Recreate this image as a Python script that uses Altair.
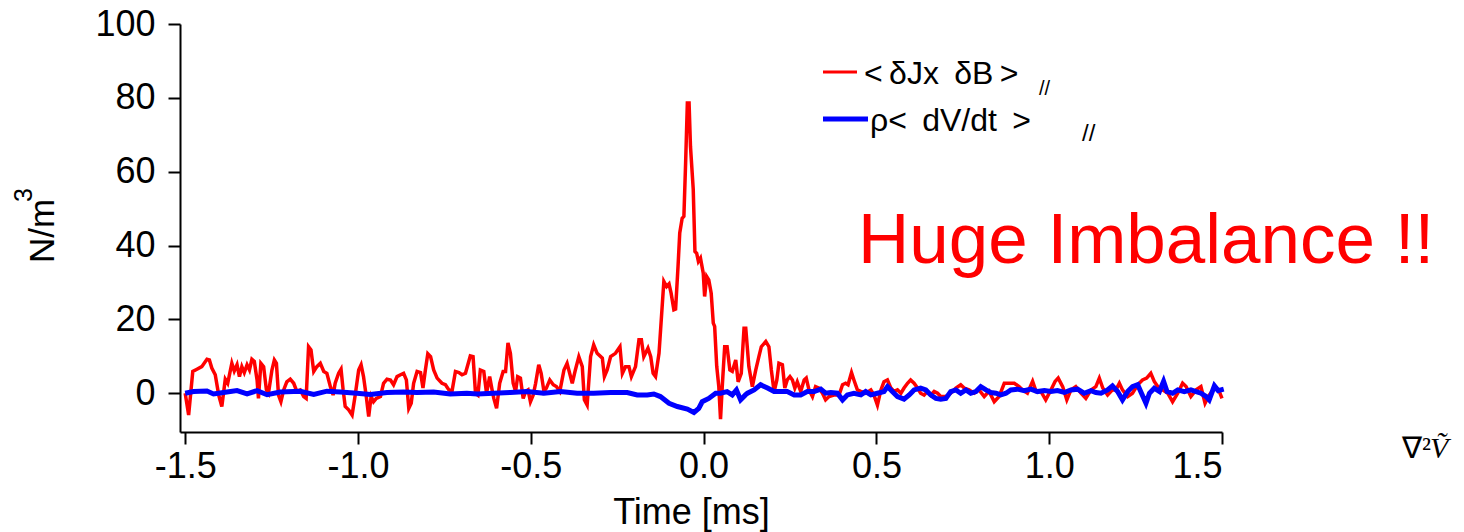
import altair as alt
import pandas as pd

# <dJ x dB>_par : time [ms] and force density [N/m^3]
red_t = [
    -1.500, -1.490, -1.478, -1.466, -1.452, -1.437, -1.430, -1.423, -1.413, -1.403,
    -1.394, -1.384, -1.377, -1.365, -1.358, -1.350, -1.343, -1.336, -1.329, -1.321,
    -1.314, -1.307, -1.300, -1.292, -1.288, -1.281, -1.273, -1.265, -1.259, -1.249,
    -1.242, -1.236, -1.230, -1.223, -1.215, -1.206, -1.196, -1.186, -1.177, -1.167,
    -1.157, -1.150, -1.143, -1.136, -1.128, -1.119, -1.109, -1.099, -1.090, -1.080,
    -1.072, -1.066, -1.056, -1.049, -1.043, -1.037, -1.027, -1.017, -1.008, -0.998,
    -0.991, -0.984, -0.976, -0.969, -0.962, -0.955, -0.947, -0.935, -0.926, -0.916,
    -0.906, -0.897, -0.887, -0.877, -0.868, -0.860, -0.853, -0.846, -0.839, -0.829,
    -0.819, -0.812, -0.805, -0.798, -0.790, -0.781, -0.771, -0.757, -0.747, -0.737,
    -0.728, -0.718, -0.708, -0.699, -0.689, -0.675, -0.667, -0.660, -0.653, -0.646,
    -0.636, -0.628, -0.619, -0.612, -0.607, -0.599, -0.590, -0.580, -0.573, -0.566,
    -0.559, -0.551, -0.544, -0.538, -0.530, -0.522, -0.515, -0.508, -0.501, -0.493,
    -0.486, -0.477, -0.470, -0.462, -0.455, -0.445, -0.435, -0.426, -0.416, -0.404,
    -0.395, -0.380, -0.371, -0.361, -0.351, -0.345, -0.337, -0.327, -0.318, -0.308,
    -0.293, -0.287, -0.279, -0.269, -0.255, -0.242, -0.235, -0.226, -0.216, -0.209,
    -0.197, -0.187, -0.180, -0.173, -0.161, -0.153, -0.146, -0.139, -0.129, -0.115,
    -0.107, -0.100, -0.094, -0.086, -0.081, -0.074, -0.069, -0.062, -0.057, -0.052,
    -0.047, -0.042, -0.038, -0.030, -0.025, -0.020, -0.015, -0.009, -0.001, 0.003,
    0.009, 0.015, 0.022, 0.028, 0.032, 0.038, 0.044, 0.049, 0.054, 0.061,
    0.068, 0.076, 0.083, 0.093, 0.100, 0.109, 0.117, 0.122, 0.131, 0.141,
    0.151, 0.160, 0.167, 0.180, 0.189, 0.196, 0.204, 0.212, 0.218, 0.228,
    0.235, 0.242, 0.250, 0.257, 0.264, 0.271, 0.281, 0.291, 0.297, 0.305,
    0.315, 0.324, 0.334, 0.344, 0.353, 0.363, 0.377, 0.392, 0.402, 0.411,
    0.418, 0.428, 0.435, 0.445, 0.455, 0.469, 0.484, 0.493, 0.503, 0.513,
    0.522, 0.532, 0.542, 0.551, 0.561, 0.571, 0.580, 0.590, 0.599, 0.609,
    0.619, 0.628, 0.638, 0.648, 0.657, 0.667, 0.677, 0.686, 0.701, 0.715,
    0.730, 0.744, 0.754, 0.768, 0.783, 0.797, 0.812, 0.826, 0.841, 0.855,
    0.870, 0.884, 0.899, 0.913, 0.923, 0.937, 0.952, 0.962, 0.976, 0.990,
    1.005, 1.017, 1.026, 1.039, 1.051, 1.063, 1.077, 1.092, 1.106, 1.121,
    1.135, 1.145, 1.155, 1.169, 1.183, 1.193, 1.203, 1.212, 1.227, 1.241,
    1.256, 1.270, 1.282, 1.294, 1.304, 1.314, 1.328, 1.343, 1.357, 1.372,
    1.386, 1.396, 1.410, 1.425, 1.439, 1.451, 1.463, 1.478, 1.492, 1.500,
]
red_v = [
    0.0, -5.9, 5.9, 6.5, 7.2, 9.2, 9.0, 6.8, 5.0, -0.5,
    -3.6, 3.8, 2.7, 8.1, 6.0, 7.7, 4.5, 7.2, 5.6, 7.7,
    6.3, 9.2, 8.6, 3.6, -1.4, 8.1, 7.2, 0.9, 0.0, 6.3,
    9.0, 8.1, -0.5, -2.3, 0.9, 3.1, 3.8, 2.7, 0.5, 0.9,
    -0.9, -1.4, 12.6, 11.7, 5.9, 7.2, 8.1, 5.9, 5.4, 1.8,
    -0.5, 2.7, 5.4, 6.5, 0.9, -3.6, -4.5, -5.9, -0.5, 6.3,
    7.7, 4.5, -0.9, -6.3, -0.9, -2.3, -1.4, -0.9, 2.7, 3.8,
    3.6, 2.3, 4.5, 5.0, 5.4, 3.6, -4.1, -2.7, 2.7, 5.9,
    5.6, 1.4, 6.3, 10.7, 9.9, 6.3, 4.1, 2.7, 2.3, 0.9,
    0.5, 5.9, 5.6, 5.0, 5.4, 10.1, 9.9, 0.0, -0.5, 6.3,
    5.9, 0.0, 4.5, 0.9, -1.4, -4.1, 2.7, 5.9, 5.9, 13.6,
    10.8, 2.7, 0.5, 4.5, 4.1, -1.4, 0.5, 0.9, -2.3, -0.5,
    2.7, 7.7, 5.4, 0.5, 1.4, 3.6, 2.3, 1.8, 0.5, 6.3,
    8.1, 2.7, 6.3, 9.9, 7.2, -1.8, -3.2, 9.9, 13.1, 10.8,
    9.5, 4.5, 6.3, 9.9, 10.8, 12.6, 5.4, 7.2, 7.2, 4.5,
    7.2, 14.5, 14.5, 9.9, 12.2, 9.9, 5.4, 4.5, 10.8, 30.3,
    28.9, 29.6, 27.1, 22.6, 22.8, 34.3, 43.4, 47.4, 47.9, 62.4,
    78.6, 78.6, 66.9, 55.3, 38.4, 37.9, 35.7, 36.6, 32.5, 26.2,
    31.6, 30.7, 27.1, 19.0, 18.1, 7.3, 1.8, -7.0, 1.8, 12.6,
    12.6, 6.3, 5.9, 9.0, 3.1, 5.4, 17.6, 17.6, 7.2, 1.8,
    6.3, 9.9, 12.6, 14.0, 12.6, 6.3, 0.4, 3.6, 8.1, 7.7,
    1.4, 3.6, 4.5, 3.6, 1.4, 3.1, 0.5, 3.6, 4.1, 0.9,
    -0.9, 1.8, 1.4, 0.0, -1.8, -0.9, -0.5, -0.5, 2.3, 2.7,
    2.3, 5.6, 3.6, 0.9, 0.5, 0.0, 0.9, -0.5, -3.2, 0.9,
    3.1, 3.6, 1.4, 0.5, 0.9, 0.0, 1.4, 2.7, 3.6, 2.7,
    1.4, 0.0, -0.5, 0.5, -0.5, 0.5, 0.0, -0.9, -0.9, 0.0,
    1.4, 2.3, 1.4, 0.9, 0.0, 0.9, -0.9, 0.5, -2.3, -0.9,
    2.7, 2.7, 2.7, 1.8, 0.9, 0.0, 3.2, 0.5, 0.5, -1.8,
    0.9, 3.2, 4.1, 1.8, -1.8, 0.9, 1.8, 0.0, -1.4, 0.9,
    1.8, 4.1, 1.4, -0.5, 0.9, 0.9, 2.7, 0.9, -0.9, 0.0,
    2.3, 3.6, 4.1, 5.4, 3.2, 1.8, 0.9, 0.0, -2.3, 0.0,
    2.7, 1.8, -0.9, 0.9, 1.8, -2.7, -0.5, 1.4, 0.5, -1.4,
]

# rho <dV/dt>_par : time [ms] and force density [N/m^3]
blue_t = [
    -1.500, -1.476, -1.437, -1.418, -1.389, -1.350, -1.321, -1.292, -1.263, -1.225,
    -1.167, -1.128, -1.090, -1.051, -1.003, -0.964, -0.916, -0.868, -0.829, -0.781,
    -0.733, -0.685, -0.655, -0.607, -0.559, -0.511, -0.462, -0.414, -0.366, -0.318,
    -0.269, -0.221, -0.192, -0.163, -0.144, -0.125, -0.100, -0.076, -0.047, -0.028,
    -0.014, -0.004, 0.015, 0.035, 0.049, 0.068, 0.083, 0.095, 0.107, 0.121,
    0.127, 0.146, 0.165, 0.185, 0.204, 0.223, 0.242, 0.262, 0.281, 0.300,
    0.320, 0.339, 0.353, 0.368, 0.387, 0.402, 0.416, 0.435, 0.455, 0.469,
    0.484, 0.503, 0.522, 0.532, 0.546, 0.561, 0.580, 0.595, 0.609, 0.628,
    0.643, 0.657, 0.672, 0.686, 0.701, 0.715, 0.730, 0.744, 0.759, 0.773,
    0.788, 0.802, 0.817, 0.831, 0.846, 0.860, 0.875, 0.889, 0.908, 0.928,
    0.947, 0.966, 0.986, 1.005, 1.024, 1.044, 1.063, 1.082, 1.101, 1.121,
    1.135, 1.150, 1.169, 1.183, 1.198, 1.212, 1.227, 1.241, 1.256, 1.267,
    1.280, 1.290, 1.304, 1.319, 1.331, 1.341, 1.357, 1.372, 1.391, 1.410,
    1.425, 1.439, 1.454, 1.463, 1.478, 1.489, 1.505,
]
blue_v = [
    0.0, 0.45, 0.6, -0.2, 0.2, 0.7, -0.2, 0.7, -0.4, 0.35,
    0.55, -0.35, 0.55, 0.35, 0.0, -0.35, 0.2, 0.35, 0.2, 0.35,
    -0.2, 0.0, -0.2, 0.0, 0.2, 0.45, 0.0, 0.45, 0.0, 0.0,
    0.2, 0.2, -0.45, -0.45, -0.2, -0.9, -2.7, -3.6, -4.3, -5.2,
    -4.1, -2.3, -1.4, 0.0, 0.0, 0.45, -0.45, 0.9, -1.8, -0.45,
    0.0, 0.9, 2.3, 1.4, 0.45, 0.45, 0.45, -0.45, -0.45, 0.45,
    0.45, 1.1, 0.0, 0.2, 0.0, -1.8, -0.45, 0.0, -0.45, 0.45,
    -0.45, 0.0, 0.45, 1.8, 0.45, -0.9, -1.6, -0.45, 0.9, 1.4,
    0.9, -0.45, -1.4, -1.6, -1.4, 0.45, 0.9, 0.0, 0.9, 0.0,
    0.45, 1.8, 0.9, 0.2, 0.0, -0.45, 0.0, 0.9, 1.1, 0.7,
    1.1, 0.45, 0.7, 0.45, 0.7, 0.2, 0.9, 1.1, 0.0, 0.7,
    0.2, 0.0, 0.9, 2.0, 0.45, -1.8, 0.45, 1.8, 2.3, 0.0,
    -2.7, 0.0, 1.35, 0.45, 3.2, 0.45, 0.0, 0.9, 0.45, 0.9,
    0.45, 0.0, -0.9, -1.8, 2.0, 0.7, 1.1,
]

x_ticks = [-1.5, -1.0, -0.5, 0.0, 0.5, 1.0, 1.5]
y_ticks = [0, 20, 40, 60, 80, 100]

FONT = "Liberation Sans"
RED = "#ff0000"
BLUE = "#0000ff"
W, H = 1042, 408

red_df = pd.DataFrame({"t": red_t, "v": red_v})
blue_df = pd.DataFrame({"t": blue_t, "v": blue_v})

x_enc = alt.X(
    "t:Q",
    scale=alt.Scale(domain=[-1.515, 1.5], nice=False, zero=False),
    axis=alt.Axis(
        values=x_ticks,
        labelExpr="datum.value < 0 ? '-' + format(-datum.value, '.1f') : format(datum.value, '.1f')",
        title="Time [ms]",
        titleX=511,
        titleY=91,
        titleBaseline="alphabetic",
        labelPadding=5,
    ),
)
# the y title (with its raised exponent) is drawn as separate text below
y_enc = alt.Y(
    "v:Q",
    scale=alt.Scale(domain=[-10.5, 100], nice=False, zero=False),
    axis=alt.Axis(values=y_ticks, format="d", title="", labelPadding=13),
)

red_line = alt.Chart(red_df).mark_line(color=RED, strokeWidth=3.5).encode(x=x_enc, y=y_enc)
blue_line = alt.Chart(blue_df).mark_line(color=BLUE, strokeWidth=5).encode(x=x_enc, y=y_enc)

one = pd.DataFrame({"k": [0]})


def rule(x0, x1, y, color, width):
    return alt.Chart(one).mark_rule(color=color, strokeWidth=width).encode(
        x=alt.value(x0), x2=alt.value(x1), y=alt.value(y)
    )


def label(text, x, y, size, color="black", font=FONT, style="normal", angle=0):
    return alt.Chart(one).mark_text(
        text=text, align="left", baseline="alphabetic", fontSize=size,
        font=font, fontStyle=style, color=color, angle=angle,
    ).encode(x=alt.value(x), y=alt.value(y))


TS = "\u2009"  # thin space, to open up the legend lettering

legend = (
    rule(643, 677, 48, RED, 3)
    + label(f"<{TS}δJx{TS} δB{TS}>", 684, 60, 32)
    + label("//", 859, 71, 20)
    + rule(643, 688, 95, BLUE, 5)
    + label(f"ρ<{TS} dV/dt{TS}  >", 690, 107, 32)
    + label("//", 902, 117, 24)
)

y_title = (
    label("N/m", -126, 239, 35, angle=270)
    + label("3", -148, 178, 25, angle=270)
)

notes = (
    label("Huge Imbalance !!", 678, 239, 71, color=RED)
    + label("∇²", 1222, 434, 30, font="Liberation Serif")
    + label("Ṽ", 1250, 434, 30, font="Liberation Serif", style="italic")
)

chart = (
    alt.layer(red_line, blue_line, legend, y_title, notes)
    .properties(
        width=W,
        height=H,
        padding={"left": 180, "top": 24, "right": 1464 - 180 - W, "bottom": 532 - 24 - H},
        autosize=alt.AutoSizeParams(type="none"),
        background="white",
    )
    .configure_view(stroke=None)
    .configure_axis(
        grid=False,
        domainColor="black",
        domainWidth=2,
        tickColor="black",
        tickWidth=2,
        tickSize=12,
        labelColor="black",
        labelFont=FONT,
        labelFontSize=36,
        titleColor="black",
        titleFont=FONT,
        titleFontSize=36,
        titleFontWeight="normal",
    )
)

chart.save("out.html", embed_options={"renderer": "svg", "actions": False})
